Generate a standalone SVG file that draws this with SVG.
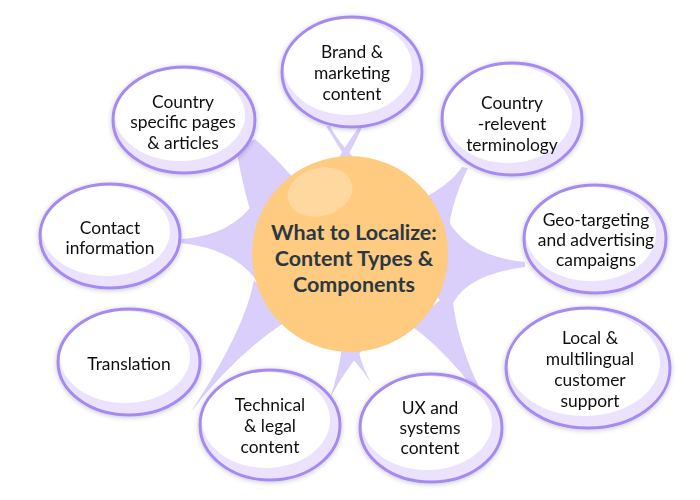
<svg xmlns="http://www.w3.org/2000/svg" width="700" height="500" viewBox="0 0 700 500">
<defs>
<style>
.spike{fill:#dacefb;stroke:none}
.fillbg{fill:#ebe3fd}
.inner{fill:#ffffff}
.ring{fill:none;stroke:#a68af2;stroke-width:3}
.lbl{font-family:Lato,"Noto Sans",sans-serif;font-size:17.4px;fill:#111111;text-anchor:middle}
.ctr{font-family:Lato,"Noto Sans",sans-serif;font-size:21.5px;font-weight:bold;fill:#2a3844;text-anchor:middle}
</style>
<filter id="sh" x="-20%" y="-20%" width="140%" height="140%">
<feDropShadow dx="0" dy="1" stdDeviation="2.5" flood-color="#000000" flood-opacity="0.22"/>
</filter>
</defs>
<rect width="700" height="500" fill="#ffffff"/>
<g id="connectors">
<path class="spike" d="M236,148 Q248,215 262,240 L295,180 Q278,160 255,139 Z"/>
<path class="spike" d="M181,239 Q232,236 256,200 L262,290 Q242,250 181,243 Z"/>
<path class="spike" d="M254,280 Q245,330 190,413 Q235,355 285,322 Z"/>
<path class="spike" d="M342,348 Q338,375 330,398 Q342,375 363,349 Z"/>
<path class="spike" d="M345,350 Q365,372 377,392 Q362,370 358,348 Z"/>
<path class="spike" d="M410,325 Q460,360 507,438 Q455,355 452,290 Z"/>
<path class="spike" d="M525,262 Q462,256 444,212 L430,290 L450,310 Q462,275 525,267 Z"/>
<path class="spike" d="M462,167 Q450,185 420,200 L430,240 L446,250 Q449,205 468,168 Z"/>
<path class="spike" d="M326,126 Q336,142 348,162 L356,160 Q338,142 330,126 Z"/>
<path class="spike" d="M359,127 Q348,142 336,162 L344,162 Q356,142 362,127 Z"/>
</g>
<g id="center">
<circle cx="350" cy="254" r="98" fill="#fecb80"/>
<ellipse cx="320" cy="192" rx="33" ry="24" fill="#fed89e" transform="rotate(-15 320 192)"/>
<text class="ctr" x="354" y="240">What to Localize:</text>
<text class="ctr" x="354" y="266">Content Types &amp;</text>
<text class="ctr" x="354" y="292">Components</text>
</g>
<g id="n-brand" filter="url(#sh)">
<ellipse class="fillbg" cx="352" cy="72" rx="70" ry="55"/>
<ellipse class="inner" cx="348" cy="67" rx="64" ry="48"/>
<ellipse class="ring" cx="352" cy="72" rx="70" ry="55"/>
<text class="lbl" x="352" y="58">Brand &amp;</text>
<text class="lbl" x="352" y="79">marketing</text>
<text class="lbl" x="352" y="100">content</text>
</g>
<g id="n-relevent" filter="url(#sh)">
<ellipse class="fillbg" cx="512" cy="119" rx="70" ry="56"/>
<ellipse class="inner" cx="508" cy="114" rx="64" ry="49"/>
<ellipse class="ring" cx="512" cy="119" rx="70" ry="56"/>
<text class="lbl" x="512" y="109">Country</text>
<text class="lbl" x="512" y="130">-relevent</text>
<text class="lbl" x="512" y="151">terminology</text>
</g>
<g id="n-geo" filter="url(#sh)">
<ellipse class="fillbg" cx="595" cy="239" rx="71" ry="54"/>
<ellipse class="inner" cx="591" cy="234" rx="65" ry="47"/>
<ellipse class="ring" cx="595" cy="239" rx="71" ry="54"/>
<text class="lbl" x="596" y="226">Geo-targeting</text>
<text class="lbl" x="596" y="246">and advertising</text>
<text class="lbl" x="596" y="266">campaigns</text>
</g>
<g id="n-local" filter="url(#sh)">
<ellipse class="fillbg" cx="588" cy="368" rx="82" ry="60"/>
<ellipse class="inner" cx="584" cy="363" rx="76" ry="53"/>
<ellipse class="ring" cx="588" cy="368" rx="82" ry="60"/>
<text class="lbl" x="590" y="344">Local &amp;</text>
<text class="lbl" x="590" y="365">multilingual</text>
<text class="lbl" x="590" y="386">customer</text>
<text class="lbl" x="590" y="407">support</text>
</g>
<g id="n-ux" filter="url(#sh)">
<ellipse class="fillbg" cx="431" cy="428" rx="71" ry="54"/>
<ellipse class="inner" cx="427" cy="423" rx="65" ry="47"/>
<ellipse class="ring" cx="431" cy="428" rx="71" ry="54"/>
<text class="lbl" x="430" y="414">UX and</text>
<text class="lbl" x="430" y="434">systems</text>
<text class="lbl" x="430" y="454">content</text>
</g>
<g id="n-technical" filter="url(#sh)">
<ellipse class="fillbg" cx="270" cy="425" rx="70" ry="55"/>
<ellipse class="inner" cx="266" cy="420" rx="64" ry="48"/>
<ellipse class="ring" cx="270" cy="425" rx="70" ry="55"/>
<text class="lbl" x="270" y="411">Technical</text>
<text class="lbl" x="270" y="432">&amp; legal</text>
<text class="lbl" x="270" y="453">content</text>
</g>
<g id="n-translation" filter="url(#sh)">
<ellipse class="fillbg" cx="129" cy="362" rx="71" ry="53"/>
<ellipse class="inner" cx="125" cy="357" rx="65" ry="46"/>
<ellipse class="ring" cx="129" cy="362" rx="71" ry="53"/>
<text class="lbl" x="129" y="370">Translation</text>
</g>
<g id="n-contact" filter="url(#sh)">
<ellipse class="fillbg" cx="110" cy="236" rx="70" ry="52"/>
<ellipse class="inner" cx="106" cy="231" rx="64" ry="45"/>
<ellipse class="ring" cx="110" cy="236" rx="70" ry="52"/>
<text class="lbl" x="110" y="234">Contact</text>
<text class="lbl" x="110" y="254">information</text>
</g>
<g id="n-specific" filter="url(#sh)">
<ellipse class="fillbg" cx="184" cy="120" rx="71" ry="53"/>
<ellipse class="inner" cx="180" cy="115" rx="65" ry="46"/>
<ellipse class="ring" cx="184" cy="120" rx="71" ry="53"/>
<text class="lbl" x="183" y="108">Country</text>
<text class="lbl" x="183" y="128">specific pages</text>
<text class="lbl" x="183" y="149">&amp; articles</text>
</g>
</svg>
